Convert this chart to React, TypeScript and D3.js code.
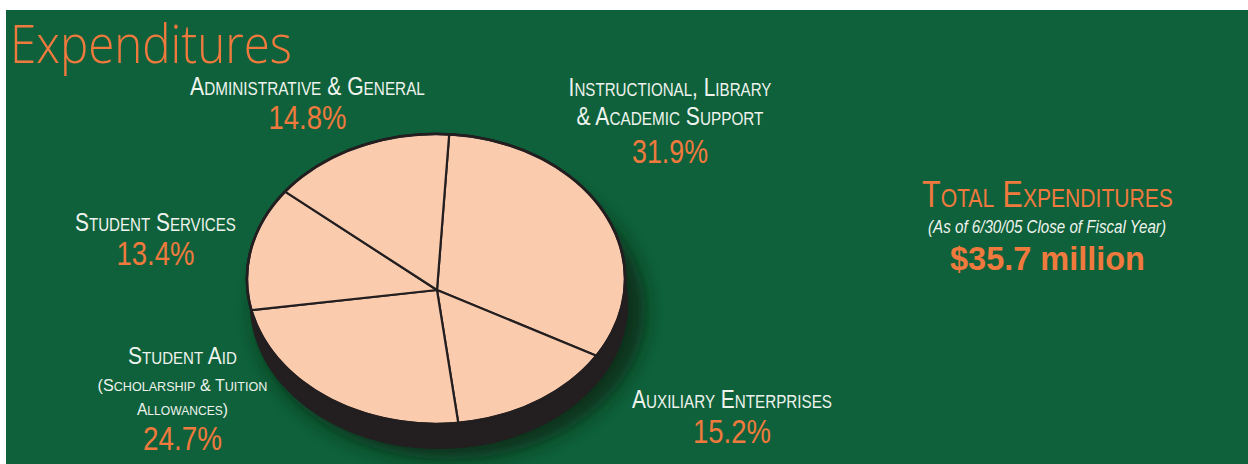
import React, { useLayoutEffect, useRef, useState } from "react";
import * as d3 from "d3";

const W = 1248;
const H = 464;

// ---- data ----
const categories = [
  "Instructional, Library & Academic Support",
  "Auxiliary Enterprises",
  "Student Aid",
  "Student Services",
  "Administrative & General",
];
const values = [31.9, 15.2, 24.7, 13.4, 14.8];
const labelLines = [
  ["Instructional, Library", "& Academic Support"],
  ["Auxiliary Enterprises"],
  ["Student Aid"],
  ["Student Services"],
  ["Administrative & General"],
];
const subLines = [[], [], ["(Scholarship & Tuition", "Allowances)"], [], []];
const title = "Expenditures";
const totalTitle = "Total Expenditures";
const totalNote = "(As of 6/30/05 Close of Fiscal Year)";
const totalValue = "$35.7 million";

// ---- style ----
const GREEN = "#0e613a";
const ORANGE = "#f07a3e";
const WHITE = "#eef3ee";
const PEACH = "#fbcbae";
const DARK = "#231f20";
const LABEL_FONT = "'Liberation Sans Narrow', 'Liberation Sans', Arial, sans-serif";

// label layout (line baselines, centers, widths)
const labelLayout = [
  { cx: 670, lines: [96, 125], widths: [203, 187], big: 25.5, small: 18.5, pctY: 163, pctW: 76 },
  { cx: 732, lines: [408], widths: [200], big: 25.5, small: 18.5, pctY: 443, pctW: 78 },
  { cx: 182.5, lines: [364], widths: [109], big: 23, small: 16.5, sub: [391, 415], subW: [170, 91], pctY: 450, pctW: 79 },
  { cx: 155.5, lines: [231], widths: [161], big: 25.5, small: 18.5, pctY: 265, pctW: 78 },
  { cx: 307.5, lines: [95], widths: [235], big: 25.5, small: 18.5, pctY: 129, pctW: 78 },
];

function FitText({ x, y, width, anchor = "middle", children, ...rest }: any) {
  const ref = useRef<SVGTextElement>(null);
  const [s, setS] = useState(1);
  useLayoutEffect(() => {
    if (ref.current) {
      const w = ref.current.getBBox().width;
      if (w > 0) setS(width / w);
    }
  }, [width]);
  return (
    <text
      ref={ref}
      x={0}
      y={0}
      transform={`translate(${x},${y}) scale(${s},1)`}
      textAnchor={anchor}
      style={{ whiteSpace: "pre" }}
      {...rest}
    >
      {children}
    </text>
  );
}

function SmallCaps({ text, x, y, big, small, width, fill, family, weight }: any) {
  const parts: { s: string; big: boolean }[] = [];
  for (const ch of text) {
    const isBig = !(ch >= "a" && ch <= "z");
    const last = parts[parts.length - 1];
    if (last && last.big === isBig) last.s += ch.toUpperCase();
    else parts.push({ s: ch.toUpperCase(), big: isBig });
  }
  return (
    <FitText x={x} y={y} width={width} fill={fill} fontFamily={family} fontWeight={weight || 400}>
      {parts.map((p, i) => (
        <tspan key={i} fontSize={p.big ? big : small}>
          {p.s}
        </tspan>
      ))}
    </FitText>
  );
}

export default function App() {
  // pie geometry (top face ellipse + hub)
  const ex = 436, ey = 279, rx = 189, ry = 145;
  const hx = 437, hy = 290;
  const depth = 25, shiftX = 3;
  const k = ry / rx;
  const rot = 0.06;

  const pie = d3
    .pie<number>()
    .sort(null)
    .value((d) => d)
    .startAngle(rot)
    .endAngle(rot + 2 * Math.PI);
  const arcs = pie(values);

  const rim = (theta: number) => {
    const dx = Math.sin(theta);
    const dy = -Math.cos(theta) * k;
    const ux = hx - ex, uy = hy - ey;
    const A = (dx / rx) ** 2 + (dy / ry) ** 2;
    const B = 2 * ((ux * dx) / (rx * rx) + (uy * dy) / (ry * ry));
    const C = (ux / rx) ** 2 + (uy / ry) ** 2 - 1;
    const t = (-B + Math.sqrt(B * B - 4 * A * C)) / (2 * A);
    return [hx + t * dx, hy + t * dy];
  };
  const param = (p: number[]) => Math.atan2((p[1] - ey) / ry, (p[0] - ex) / rx);

  const slicePath = (a: d3.PieArcDatum<number>) => {
    const p1 = rim(a.startAngle);
    const p2 = rim(a.endAngle);
    let diff = param(p2) - param(p1);
    while (diff < 0) diff += 2 * Math.PI;
    const large = diff > Math.PI ? 1 : 0;
    const path = d3.path();
    path.moveTo(hx, hy);
    path.lineTo(p1[0], p1[1]);
    return `${path.toString()}A${rx},${ry} 0 ${large} 1 ${p2[0]},${p2[1]}Z`;
  };

  const sidePath = `M${ex - rx},${ey} L${ex + rx},${ey} L${ex + rx + shiftX},${ey + depth} A${rx},${ry} 0 0 1 ${ex - rx + shiftX},${ey + depth} Z`;

  return (
    <div style={{ position: "absolute", left: 0, top: 0, width: W, height: H }}>
      <svg width={W} height={H} viewBox={`0 0 ${W} ${H}`} style={{ display: "block" }}>
        <defs>
          <filter id="shadow" x="-30%" y="-30%" width="160%" height="160%">
            <feGaussianBlur stdDeviation="9" />
          </filter>
        </defs>
        <rect x={0} y={0} width={W} height={H} fill="#ffffff" />
        <rect x={6} y={10} width={W - 6} height={H - 10} fill={GREEN} />

        {/* title */}
        <FitText
          x={10}
          y={63}
          width={282}
          anchor="start"
          fill={ORANGE}
          fontSize={53}
          fontFamily="'Open Sans', Lato, sans-serif"
          fontWeight={300}
        >
          {title}
        </FitText>

        {/* pie shadow */}
        <ellipse cx={ex + 14} cy={ey + depth + 6} rx={rx + 6} ry={ry + 4} fill="#0a1a10" opacity={0.7} filter="url(#shadow)" />
        {/* pie side */}
        <path d={sidePath} fill={DARK} />
        <ellipse cx={ex + shiftX} cy={ey + depth} rx={rx} ry={ry} fill={DARK} />
        {/* top face slices */}
        <ellipse cx={ex} cy={ey} rx={rx} ry={ry} fill={PEACH} stroke={DARK} strokeWidth={3} />
        {arcs.map((a, i) => (
          <path key={categories[i]} d={slicePath(a)} fill={PEACH} stroke={DARK} strokeWidth={2.2} strokeLinejoin="round" />
        ))}
        <ellipse cx={ex} cy={ey} rx={rx} ry={ry} fill="none" stroke={DARK} strokeWidth={2.5} />

        {/* labels */}
        {labelLayout.map((L, i) => (
          <g key={"lab" + i}>
            {labelLines[i].map((ln, j) => (
              <SmallCaps key={j} text={ln} x={L.cx} y={L.lines[j]} big={L.big} small={L.small} width={L.widths[j]} fill={WHITE} family={LABEL_FONT} />
            ))}
            {subLines[i].map((ln, j) => (
              <SmallCaps key={"s" + j} text={ln} x={L.cx} y={(L as any).sub[j]} big={16} small={12.5} width={(L as any).subW[j]} fill={WHITE} family={LABEL_FONT} />
            ))}
            <FitText x={L.cx} y={L.pctY} width={L.pctW} fill={ORANGE} fontSize={34} fontFamily={LABEL_FONT}>
              {d3.format(".1f")(values[i]) + "%"}
            </FitText>
          </g>
        ))}

        {/* total */}
        <SmallCaps text={totalTitle} x={1047.5} y={207} big={36} small={25} width={251} fill={ORANGE} family={LABEL_FONT} />
        <FitText x={1047} y={233} width={238} fill={WHITE} fontSize={18} fontStyle="italic" fontFamily={LABEL_FONT}>
          {totalNote}
        </FitText>
        <FitText x={1047.5} y={270} width={195} fill={ORANGE} fontSize={33} fontWeight={700} fontFamily={LABEL_FONT}>
          {totalValue}
        </FitText>
      </svg>
    </div>
  );
}
